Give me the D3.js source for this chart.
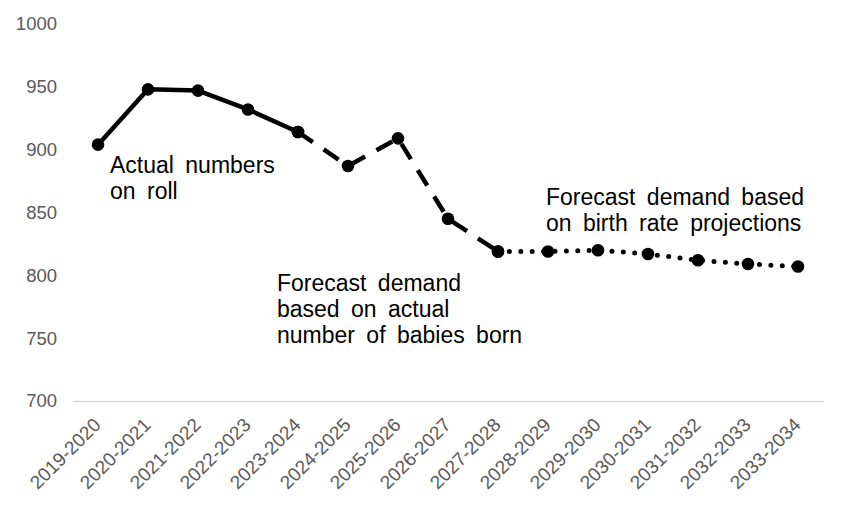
<!DOCTYPE html>
<html>
<head>
<meta charset="utf-8">
<script src="https://cdn.jsdelivr.net/npm/d3@7"></script>
<style>
  html, body { margin: 0; padding: 0; background: #fff; }
  svg { display: block; font-family: "Liberation Sans", Arial, sans-serif; }
</style>
</head>
<body>
<svg id="chart" width="850" height="510"></svg>
<script>
// ---- Data ----
const categories = ["2019-2020","2020-2021","2021-2022","2022-2023","2023-2024","2024-2025","2025-2026","2026-2027","2027-2028","2028-2029","2029-2030","2030-2031","2031-2032","2032-2033","2033-2034"];
const actualOnRoll      = [904, 948, 947, 932, 914, null, null, null, null, null, null, null, null, null, null];
const forecastBirths    = [null, null, null, null, 914, 887, 909, 845, 819, null, null, null, null, null, null];
const forecastBirthRate = [null, null, null, null, null, null, null, null, 819, 819, 820, 817, 812, 809, 807];
const yTicks = [700, 750, 800, 850, 900, 950, 1000];
const annotations = [
  { lines: ["Actual numbers", "on roll"] },
  { lines: ["Forecast demand", "based on actual", "number of babies born"] },
  { lines: ["Forecast demand based", "on birth rate projections"] }
];

// ---- Chart ----
const svg = d3.select("#chart");
const x = d3.scaleBand().domain(categories).range([73, 823]).padding(0);
const cx = c => x(c) + x.bandwidth() / 2;
const y = d3.scaleLinear().domain([700, 1000]).range([401, 24]);

// Y axis labels (no axis line, no gridlines)
const yAxis = svg.append("g").attr("transform", "translate(62,0)")
  .call(d3.axisLeft(y).tickValues(yTicks).tickFormat(d3.format("d")).tickSize(0).tickPadding(5));
yAxis.select(".domain").remove();
yAxis.selectAll("text").attr("font-size", 18.5).attr("fill", "#595959")
  .attr("font-family", "Liberation Sans, Arial, sans-serif");

// X axis baseline + rotated labels
const xAxis = svg.append("g").attr("transform", `translate(0,${y(700)})`)
  .call(d3.axisBottom(x).tickSize(0).tickPadding(0));
xAxis.select(".domain").attr("stroke", "#d9d9d9").attr("stroke-width", 1.3);
xAxis.selectAll("text")
  .attr("font-size", 19).attr("fill", "#595959")
  .attr("font-family", "Liberation Sans, Arial, sans-serif")
  .attr("text-anchor", "end")
  .attr("dy", null).attr("y", 0)
  .attr("transform", "translate(4,25) rotate(-45)");

function series(vals) {
  return categories.map((c, i) => ({ c, v: vals[i] })).filter(d => d.v != null);
}
const line = d3.line().x(d => cx(d.c)).y(d => y(d.v));

const styles = [
  { vals: actualOnRoll, dash: null, cap: "round", w: 4.5 },
  { vals: forecastBirths, dash: "18 13", cap: "butt", w: 4.5 },
  { vals: forecastBirthRate, dash: "0 11.4", cap: "round", w: 5 }
];
styles.forEach(s => {
  const data = series(s.vals);
  svg.append("path").datum(data)
    .attr("d", line)
    .attr("fill", "none").attr("stroke", "#000")
    .attr("stroke-width", s.w)
    .attr("stroke-linecap", s.cap).attr("stroke-linejoin", "round")
    .attr("stroke-dasharray", s.dash);
  svg.append("g").selectAll("circle").data(data).join("circle")
    .attr("cx", d => cx(d.c)).attr("cy", d => y(d.v)).attr("r", 6.3).attr("fill", "#000");
});

// Annotations
const annPos = [ {x: 110, y: 173}, {x: 277, y: 291}, {x: 546, y: 205} ];
annotations.forEach((a, k) => {
  const t = svg.append("text")
    .attr("x", annPos[k].x).attr("y", annPos[k].y)
    .attr("font-size", 23).attr("fill", "#000").attr("word-spacing", 5);
  a.lines.forEach((ln, i) => {
    t.append("tspan").attr("x", annPos[k].x).attr("dy", i === 0 ? 0 : 26).text(ln);
  });
});
</script>
</body>
</html>
